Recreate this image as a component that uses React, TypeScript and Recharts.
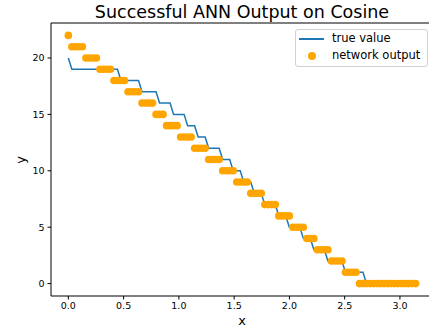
import { ComposedChart, Line, Scatter, XAxis, YAxis, ReferenceLine } from "recharts";

const X_VALUES = [
  0, 0.0317, 0.0635, 0.0952, 0.1269, 0.1587, 0.1904, 0.2221, 0.2539, 0.2856,
  0.3173, 0.3491, 0.3808, 0.4125, 0.4443, 0.476, 0.5077, 0.5395, 0.5712, 0.6029,
  0.6347, 0.6664, 0.6981, 0.7299, 0.7616, 0.7933, 0.8251, 0.8568, 0.8885, 0.9203,
  0.952, 0.9837, 1.0155, 1.0472, 1.0789, 1.1107, 1.1424, 1.1741, 1.2059, 1.2376,
  1.2693, 1.3011, 1.3328, 1.3645, 1.3963, 1.428, 1.4597, 1.4915, 1.5232, 1.5549,
  1.5867, 1.6184, 1.6501, 1.6819, 1.7136, 1.7453, 1.7771, 1.8088, 1.8405, 1.8723,
  1.904, 1.9357, 1.9675, 1.9992, 2.0309, 2.0627, 2.0944, 2.1261, 2.1579, 2.1896,
  2.2213, 2.2531, 2.2848, 2.3165, 2.3483, 2.38, 2.4117, 2.4435, 2.4752, 2.5069,
  2.5387, 2.5704, 2.6021, 2.6339, 2.6656, 2.6973, 2.7291, 2.7608, 2.7925, 2.8243,
  2.856, 2.8877, 2.9195, 2.9512, 2.9829, 3.0147, 3.0464, 3.0781, 3.1099, 3.1416,
];

const TRUE_VALUES = [
  20, 19, 19, 19, 19, 19, 19, 19, 19, 19,
  19, 19, 19, 19, 19, 18, 18, 18, 18, 18,
  18, 17, 17, 17, 17, 17, 16, 16, 16, 16,
  15, 15, 15, 15, 14, 14, 14, 13, 13, 13,
  12, 12, 12, 12, 11, 11, 11, 10, 10, 10,
  9, 9, 9, 8, 8, 8, 7, 7, 7, 7,
  6, 6, 6, 5, 5, 5, 5, 4, 4, 4,
  3, 3, 3, 3, 2, 2, 2, 2, 2, 1,
  1, 1, 1, 1, 1, 0, 0, 0, 0, 0,
  0, 0, 0, 0, 0, 0, 0, 0, 0, 0,
];

const NETWORK_OUTPUT = [
  22, 21, 21, 21, 21, 20, 20, 20, 20, 19,
  19, 19, 19, 18, 18, 18, 18, 17, 17, 17,
  17, 16, 16, 16, 16, 15, 15, 15, 14, 14,
  14, 14, 13, 13, 13, 13, 12, 12, 12, 12,
  11, 11, 11, 11, 10, 10, 10, 10, 9, 9,
  9, 9, 8, 8, 8, 8, 7, 7, 7, 7,
  6, 6, 6, 6, 5, 5, 5, 5, 4, 4,
  4, 3, 3, 3, 3, 2, 2, 2, 2, 1,
  1, 1, 1, 0, 0, 0, 0, 0, 0, 0,
  0, 0, 0, 0, 0, 0, 0, 0, 0, 0,
];

const X_TICKS = [0, 0.5, 1, 1.5, 2, 2.5, 3];
const Y_TICKS = [0, 5, 10, 15, 20];

const LINE_COLOR = "#1f77b4";
const DOT_COLOR = "#ffa500";
const FONT = "'DejaVu Sans', sans-serif";

const rows = X_VALUES.map((x, i) => ({ x, tv: TRUE_VALUES[i], net: NETWORK_OUTPUT[i] }));

const Dot = (props: any) => <circle cx={props.cx} cy={props.cy} r={3.8} fill={DOT_COLOR} />;

export default function App() {
  const tick = { fill: "#000", fontSize: 9.5, fontFamily: FONT };
  return (
    <div style={{ position: "absolute", left: 0, top: 0, width: 429, height: 330, overflow: "hidden", background: "#fff", fontFamily: FONT }}>
      <ComposedChart
        width={440}
        height={330}
        data={rows}
        margin={{ top: 23, right: 7, bottom: 0, left: 0 }}
      >
        <XAxis
          dataKey="x"
          type="number"
          domain={[-0.157, 3.299]}
          ticks={X_TICKS}
          tickFormatter={(v: number) => v.toFixed(1)}
          tick={tick}
          tickSize={3.5}
          tickMargin={3}
          height={34}
          stroke="#000"
          allowDataOverflow
        />
        <YAxis
          type="number"
          domain={[-1.1, 23.1]}
          ticks={Y_TICKS}
          tick={tick}
          tickSize={3.5}
          tickMargin={3}
          width={51}
          stroke="#000"
          allowDataOverflow
        />
        <ReferenceLine y={23.1} stroke="#000" ifOverflow="extendDomain" />
        <Scatter dataKey="net" shape={Dot} isAnimationActive={false} />
        <Line dataKey="tv" stroke={LINE_COLOR} strokeWidth={1.5} dot={false} type="linear" isAnimationActive={false} />
      </ComposedChart>

      <div style={{ position: "absolute", left: 0, width: 484, top: 2, textAlign: "center", fontSize: 17.5, color: "#000" }}>
        Successful ANN Output on Cosine
      </div>
      <div style={{ position: "absolute", left: 0, width: 484, top: 313, textAlign: "center", fontSize: 13, color: "#000" }}>
        x
      </div>
      <div style={{ position: "absolute", left: 20, top: 160, transform: "translate(-50%, -50%) rotate(-90deg)", fontSize: 13, color: "#000" }}>
        y
      </div>

      <div style={{ position: "absolute", left: 295, top: 29, width: 131, height: 36, border: "1px solid #d0d0d0", borderRadius: 3, background: "rgba(255,255,255,0.8)" }}>
        <div style={{ position: "absolute", left: 3, top: 8, width: 25, height: 1.5, background: LINE_COLOR }} />
        <div style={{ position: "absolute", left: 36, top: 1, fontSize: 11.5, color: "#000", whiteSpace: "nowrap" }}>true value</div>
        <div style={{ position: "absolute", left: 12, top: 22, width: 8, height: 8, borderRadius: 4, background: DOT_COLOR }} />
        <div style={{ position: "absolute", left: 36, top: 18, fontSize: 11.5, color: "#000", whiteSpace: "nowrap" }}>network output</div>
      </div>
    </div>
  );
}
